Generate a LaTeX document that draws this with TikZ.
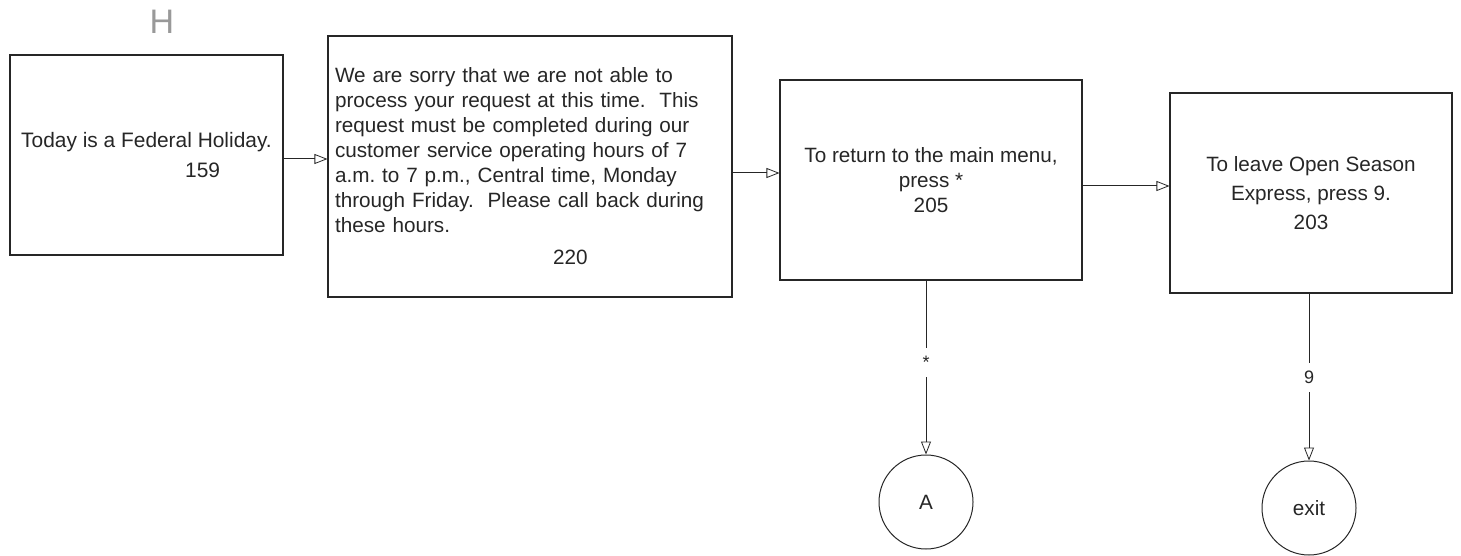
\documentclass[tikz,border=0pt]{standalone}
\usepackage{fontspec}
\setmainfont{Liberation Sans}
\usetikzlibrary{arrows.meta}
\frenchspacing
\begin{document}
\begin{tikzpicture}[x=1pt,y=-1pt,
  every node/.style={text=black!85},
  box/.style={draw=black!85, line width=1.1pt, rectangle, inner sep=0pt},
  circ/.style={draw=black!85, line width=1pt, circle, inner sep=0pt, minimum size=94pt,
    font=\fontsize{20.7}{25}\selectfont},
  arr/.style={draw=black!85, line width=1pt, -{Triangle[open, length=13pt, width=10pt, line width=0.8pt]}},
  lbl/.style={fill=white, inner xsep=2pt, inner ysep=8pt, text height=13pt, text depth=0pt,
    font=\fontsize{18}{20}\selectfont},
]
\useasboundingbox (0,0) rectangle (1461,556);

\node (hmark) at (162,22) {\fontsize{34}{36}\selectfont\color{black!40}H};

\node[box, minimum width=273pt, minimum height=200pt, align=left,
  font=\fontsize{20.9}{30}\selectfont] (box1) at (146.5,155)
  {Today is a Federal Holiday.\\\hspace*{164pt}159};

\node[box, minimum width=404pt, minimum height=261pt, text width=390pt, inner xsep=6pt,
  align=left, font=\fontsize{20.7}{25}\selectfont] (box2) at (530,166.5)
  {We are sorry that we are not able to\\
   process your request at this time.\ \ This\\
   request must be completed during our\\
   customer service operating hours of 7\\
   a.m. to 7 p.m., Central time, Monday\\
   through Friday.\ \ Please call back during\\
   these hours.\\[7pt]
   \hspace*{218pt}220};

\node[box, minimum width=302pt, minimum height=200pt, align=center,
  font=\fontsize{20.7}{25}\selectfont] (box3) at (931,180)
  {To return to the main menu,\\press *\\205};

\node[box, minimum width=282pt, minimum height=200pt, align=center,
  font=\fontsize{20.7}{29}\selectfont] (box4) at (1311,193)
  {To leave Open Season\\Express, press 9.\\203};

\node[circ] (A) at (926,502) {A};
\node[circ] (exit) at (1309,508) {exit};

\coordinate (y1) at (0,159);
\coordinate (y2) at (0,173);
\coordinate (y3) at (0,186);

\draw[arr] (box1.east |- y1) -- (box2.west |- y1);
\draw[arr] (box2.east |- y2) -- (box3.west |- y2);
\draw[arr] (box3.east |- y3) -- (box4.west |- y3);

\draw[arr] (A.north |- box3.south) -- node[lbl, pos=0.47] {*} (A.north);
\draw[arr] (exit.north |- box4.south) -- node[lbl, pos=0.5] {9} (exit.north);
\end{tikzpicture}
\end{document}
